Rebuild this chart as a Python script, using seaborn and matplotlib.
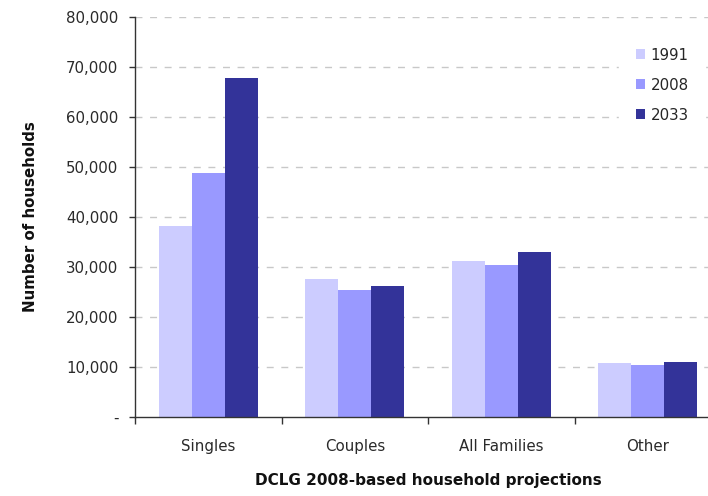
import matplotlib
matplotlib.use("Agg")
import matplotlib.pyplot as plt
import matplotlib.ticker as mticker
import numpy as np
import pandas as pd
import seaborn as sns

# Household counts by type (DCLG 2008-based projections)
categories = ["Singles", "Couples", "All Families", "Other"]
years = ["1991", "2008", "2033"]
values_1991 = [38250, 27650, 31250, 10850]
values_2008 = [48850, 25450, 30450, 10450]
values_2033 = [67850, 26250, 33050, 11050]
colors = ["#CCCCFF", "#9999FF", "#333399"]

rows = []
for year, vals in zip(years, [values_1991, values_2008, values_2033]):
    for cat, v in zip(categories, vals):
        rows.append({"category": cat, "year": year, "households": v})
df = pd.DataFrame(rows)

sns.set_theme(style="white")
plt.rcParams["font.family"] = ["DejaVu Sans"]

fig = plt.figure(figsize=(7.08, 4.96), dpi=100)
ax = fig.add_axes([135 / 708, 79 / 496, 586 / 708, 400 / 496])

sns.barplot(data=df, x="category", y="households", hue="year",
            order=categories, hue_order=years, palette=colors,
            saturation=1, width=0.675, ax=ax, linewidth=0)

ax.set_xlim(-0.5, 3.5)
ax.set_ylim(0, 80000)
ax.set_yticks(np.arange(0, 80001, 10000))
ax.yaxis.set_major_formatter(mticker.FuncFormatter(
    lambda v, p: "-" if v == 0 else f"{int(v):,}"))

# dashed horizontal grid, skipping the baseline
ax.set_axisbelow(True)
for yv in range(10000, 80001, 10000):
    ax.axhline(yv, color="#C8C8C8", lw=1.0, ls=(0, (5, 5.5)), zorder=0)

for s in ["top", "right"]:
    ax.spines[s].set_visible(False)
for s in ["left", "bottom"]:
    ax.spines[s].set_color("#333333")
    ax.spines[s].set_linewidth(1.0)

ax.tick_params(axis="y", which="major", direction="out", length=4,
               width=1, color="#333333", labelsize=10.8, labelcolor="#2a2a2a",
               pad=8, left=True)
ax.tick_params(axis="x", which="major", length=0, labelsize=10.8,
               labelcolor="#2a2a2a", pad=16)
ax.set_xticks(np.arange(-0.5, 3.0, 1.0), minor=True)
ax.tick_params(axis="x", which="minor", direction="out", length=5,
               width=1, color="#333333", bottom=True)

ax.set_ylabel("Number of households", fontsize=10.8, fontweight="bold",
              color="#111111")
ax.set_xlabel("DCLG 2008-based household projections", fontsize=11,
              fontweight="bold", color="#111111")
ax.xaxis.set_label_coords((428 - 135) / 586, -56 / 400)
ax.yaxis.set_label_coords(-97 / 586, 0.5)

handles, labels = ax.get_legend_handles_labels()
ax.legend(handles, labels, loc="upper left",
          bbox_to_anchor=(619 / 708, 1 - 31 / 496),
          bbox_transform=fig.transFigure, borderaxespad=0,
          frameon=True, facecolor="white", edgecolor="white", framealpha=1,
          fontsize=10.8, handlelength=0.65, handleheight=0.65,
          handletextpad=0.35, labelspacing=1.0, borderpad=1.1)

fig.savefig("out.png", dpi=100)
